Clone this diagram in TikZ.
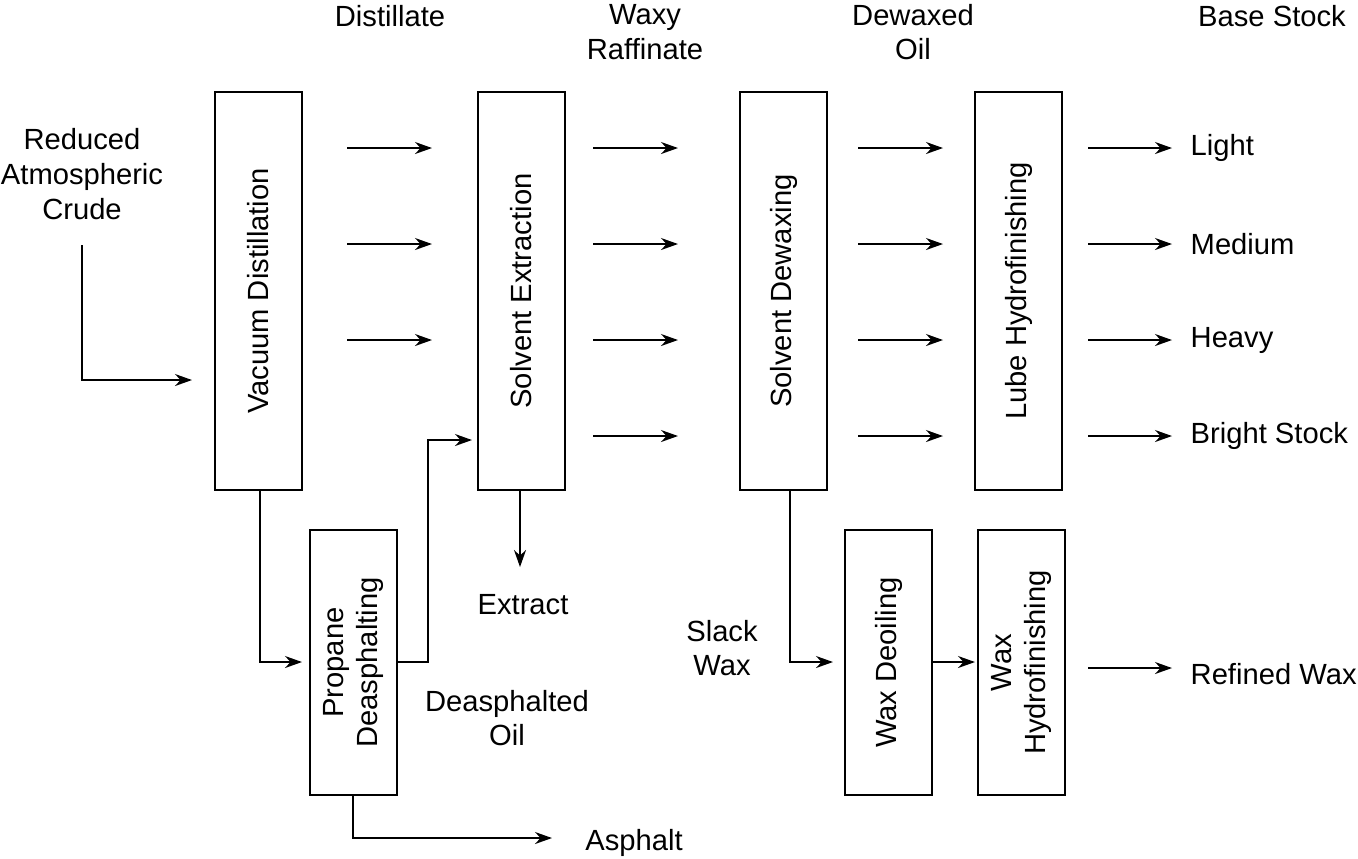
\documentclass[tikz,border=0pt]{standalone}
\usepackage{fontspec}
\setmainfont{Liberation Sans}
\usetikzlibrary{arrows.meta}
\begin{document}
\begin{tikzpicture}[x=0.1mm,y=-0.1mm,
  every node/.style={font=\fontsize{8.3}{9.9}\selectfont,align=center,inner sep=0pt},
  box/.style={draw,line width=0.4pt,minimum width=8.7mm},
  lbl/.style={rotate=90},
  flow/.style={-{Stealth[length=1.7mm,width=1.2mm]},line width=0.4pt}]
\useasboundingbox (0,0) rectangle (1358,858);
% units
\node[box,minimum height=39.8mm] (vd) at (258.5,291) {};
\node[lbl] at (vd) {Vacuum Distillation};
\node[box,minimum height=26.5mm] (pd) at (353.5,662.5) {};
\node[lbl] at (pd) {Propane\\Deasphalting};
\node[box,minimum height=39.8mm] (se) at (521.5,291) {};
\node[lbl] at (se) {Solvent Extraction};
\node[box,minimum height=39.8mm] (sd) at (783.5,291) {};
\node[lbl] at (sd) {Solvent Dewaxing};
\node[box,minimum height=39.8mm] (lh) at (1018.5,291) {};
\node[lbl] at (lh) {Lube Hydrofinishing};
\node[box,minimum height=26.5mm] (wd) at (888.5,662.5) {};
\node[lbl] at (wd) {Wax Deoiling};
\node[box,minimum height=26.5mm] (wh) at (1021.5,662.5) {};
\node[lbl] at (wh) {Wax\\Hydrofinishing};
% headings and labels
\node at (390,16) {Distillate};
\node at (645,32) {Waxy\\Raffinate};
\node at (913,32) {Dewaxed\\Oil};
\node at (1272,16) {Base Stock};
\node (feed) at (82,174) {Reduced\\Atmospheric\\Crude};
\node (ext) at (523,605) {Extract};
\node at (722,648) {Slack\\Wax};
\node at (507,718) {Deasphalted\\Oil};
\node (asp) at (634,843) {Asphalt};
\node[anchor=west] (light) at (1190,148) {Light};
\node[anchor=west] (med) at (1190,244) {Medium};
\node[anchor=west] (heavy) at (1190,340) {Heavy};
\node[anchor=west] (bright) at (1190,436) {Bright Stock};
\node[anchor=west] (rw) at (1190,674) {Refined Wax};
% arrows between columns
\foreach \y in {148,244,340} {
  \coordinate (a\y) at (347,\y); \coordinate (b\y) at (432,\y);
  \draw[flow] (a\y) -- (b\y);}
\foreach \y in {148,244,340,436} {
  \coordinate (c\y) at (593,\y); \coordinate (d\y) at (678,\y);
  \coordinate (e\y) at (858,\y); \coordinate (f\y) at (943,\y);
  \coordinate (g\y) at (1088,\y); \coordinate (h\y) at (1172,\y);
  \draw[flow] (c\y) -- (d\y);
  \draw[flow] (e\y) -- (f\y);
  \draw[flow] (g\y) -- (h\y);}
\coordinate (rw1) at (1088,668); \coordinate (rw2) at (1172,668);
\draw[flow] (rw1) -- (rw2);
% connectors
\coordinate (f1) at (82,245); \coordinate (f2) at (192,380);
\draw[flow] (f1) |- (f2);
\coordinate (v1) at (260,490); \coordinate (v2) at (302,662);
\draw[flow] (v1) |- (v2);
\coordinate (p1) at (397,662); \coordinate (p2) at (428,662); \coordinate (p3) at (472,440);
\draw[flow] (p1) -- (p2) |- (p3);
\coordinate (s1) at (520,490); \coordinate (s2) at (520,567);
\draw[flow] (s1) -- (s2);
\coordinate (d1) at (790,490); \coordinate (d2) at (833,662);
\draw[flow] (d1) |- (d2);
\coordinate (w1) at (932,662); \coordinate (w2) at (975,662);
\draw[flow] (w1) -- (w2);
\coordinate (q1) at (353,795); \coordinate (q2) at (552,838);
\draw[flow] (q1) |- (q2);
\end{tikzpicture}
\end{document}
